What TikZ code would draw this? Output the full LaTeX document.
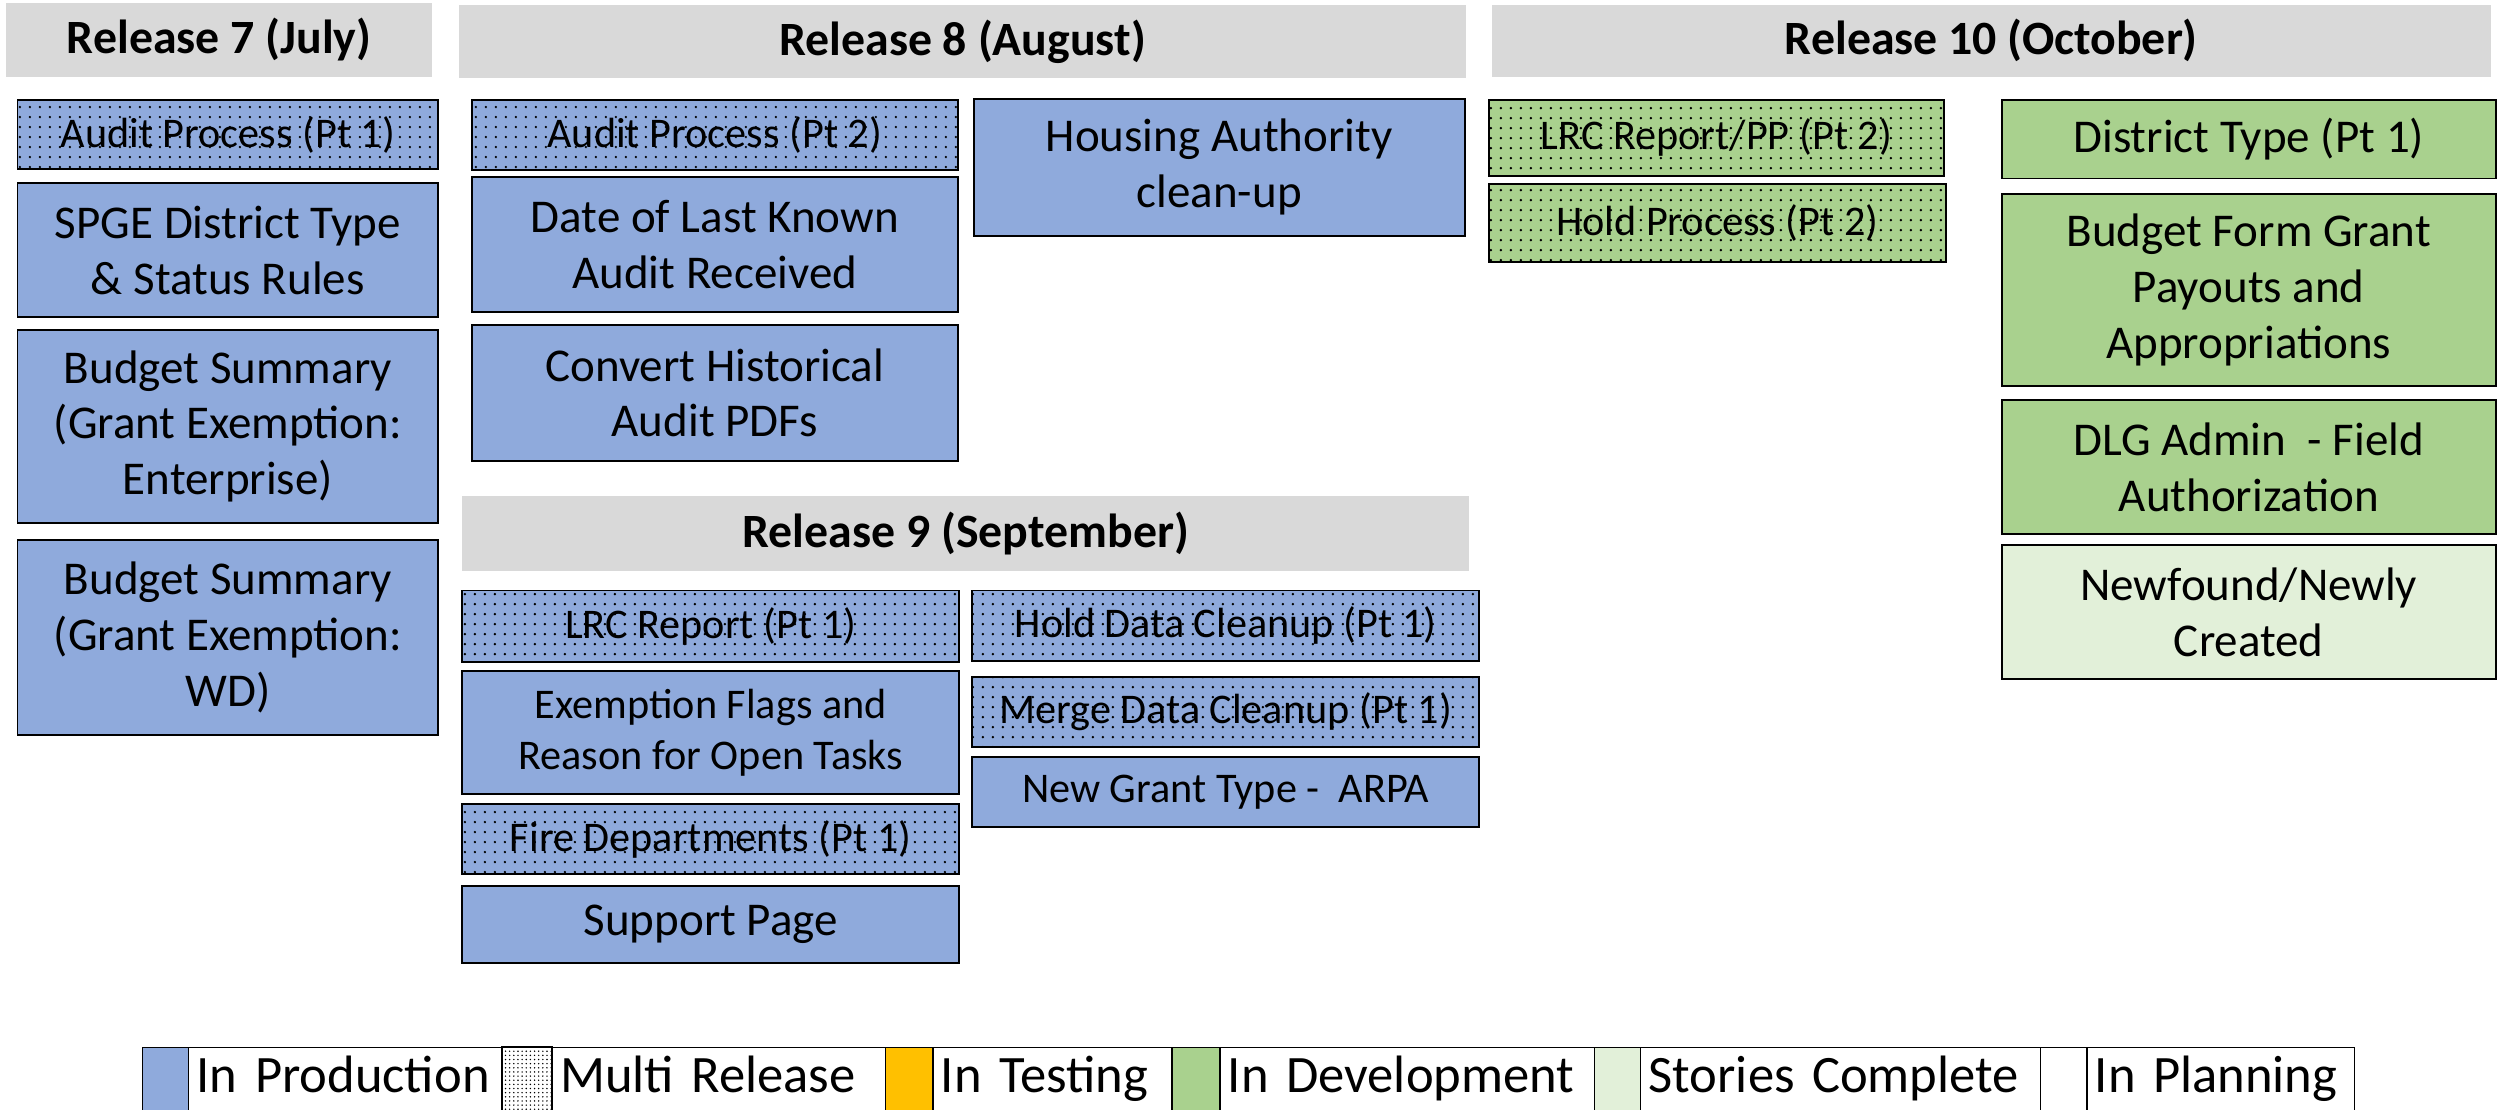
\documentclass[tikz,border=0pt]{standalone}
\usepackage{fontspec}
\setmainfont{Carlito}
\usetikzlibrary{patterns.meta}

\definecolor{prodblue}{HTML}{8FAADC}
\definecolor{devgreen}{HTML}{A9D18E}
\definecolor{donegreen}{HTML}{E2F0D9}
\definecolor{testorange}{HTML}{FFC000}
\definecolor{hdrgray}{HTML}{D9D9D9}

\tikzset{
  card/.style={draw=black, line width=1.2pt, inner sep=2pt, align=center,
    font=\fontsize{29.5}{35}\selectfont},
  small/.style={font=\fontsize{26.5}{32}\selectfont},
  dotty/.style={postaction={pattern={Dots[distance=6.5pt,radius=0.85pt]}}},
  prod/.style={card, fill=prodblue},
  multi/.style={card, small, fill=prodblue, dotty},
  dev/.style={card, fill=devgreen},
  devmulti/.style={card, small, fill=devgreen, dotty},
  done/.style={card, fill=donegreen},
  hdr/.style={fill=hdrgray, inner sep=0pt, font=\fontsize{30}{36}\selectfont\bfseries},
  keycell/.style={draw=black, line width=0.8pt, anchor=north west, minimum height=40, inner sep=0pt}
}

\begin{document}
\begin{tikzpicture}[x=1pt, y=-1pt]
  \useasboundingbox (0,0) rectangle (1568,696);

  % release headers
  \node[hdr, minimum width=267, minimum height=46] (r7hdr) at (137.5,25) {Release 7 (July)};
  \node[hdr, minimum width=632, minimum height=46] (r8hdr) at (604,26) {Release 8 (August)};
  \node[hdr, minimum width=632, minimum height=47] (r9hdr) at (606,334.5) {Release 9 (September)};
  \node[hdr, minimum width=627, minimum height=45] (r10hdr) at (1249.5,25.5) {Release 10 (October)};

  % release 7
  \node[multi, minimum width=264, minimum height=43] (r7audit) at (143,84.5) {Audit Process (Pt 1)};
  \node[prod, minimum width=264, minimum height=84] (r7spge) at (143,157) {SPGE District Type\\\& Status Rules};
  \node[prod, minimum width=264, minimum height=121] (r7budgetent) at (143,267.5) {Budget Summary\\(Grant Exemption:\\Enterprise)};
  \node[prod, minimum width=264, minimum height=122] (r7budgetwd) at (143,400) {Budget Summary\\(Grant Exemption:\\WD)};

  % release 8
  \node[multi, minimum width=305, minimum height=44] (r8audit) at (448.5,84.5) {Audit Process (Pt 2)};
  \node[prod, minimum width=305, minimum height=85] (r8date) at (448.5,153.5) {Date of Last Known\\Audit Received};
  \node[prod, minimum width=305, minimum height=85] (r8convert) at (448.5,246.5) {Convert Historical\\Audit PDFs};
  \node[prod, minimum width=308, minimum height=86] (r8housing) at (765,105) {Housing Authority\\clean-up};

  % release 9
  \node[multi, minimum width=312, minimum height=45] (r9lrc) at (446,393) {LRC Report (Pt 1)};
  \node[prod, small, minimum width=312, minimum height=77] (r9exempt) at (446,459.5) {Exemption Flags and\\Reason for Open Tasks};
  \node[multi, minimum width=312, minimum height=44] (r9fire) at (446,526.5) {Fire Departments (Pt 1)};
  \node[prod, minimum width=312, minimum height=48] (r9support) at (446,580) {Support Page};
  \node[multi, minimum width=318, minimum height=44] (r9hold) at (769,392.5) {Hold Data Cleanup (Pt 1)};
  \node[multi, minimum width=318, minimum height=44] (r9merge) at (769,446.5) {Merge Data Cleanup (Pt 1)};
  \node[prod, small, minimum width=318, minimum height=44] (r9arpa) at (769,497) {New Grant Type -\ \ ARPA};

  % release 10
  \node[devmulti, minimum width=286, minimum height=48] (r10lrc) at (1077,86.5) {LRC Report/PP (Pt 2)};
  \node[devmulti, minimum width=287, minimum height=49] (r10hold) at (1077.5,140) {Hold Process (Pt 2)};
  \node[dev, minimum width=310, minimum height=49] (r10district) at (1411,87.5) {District Type (Pt 1)};
  \node[dev, minimum width=310, minimum height=120] (r10budget) at (1411,182) {Budget Form Grant\\Payouts and\\Appropriations};
  \node[dev, minimum width=310, minimum height=84] (r10dlg) at (1411,293) {DLG Admin\ \ - Field\\Authorization};
  \node[done, minimum width=310, minimum height=84] (r10newfound) at (1411,384) {Newfound/Newly\\Created};

  % legend
  \foreach \a/\b/\c/\col/\txt in {89/118/315/prodblue/In Production,
      315/346/555/white/Multi Release, 555/585/735/testorange/In Testing,
      735/765/1000/devgreen/In Development, 1000/1029/1280/donegreen/Stories Complete,
      1280/1309/1477/white/In Planning} {
    \pgfmathsetmacro\sw{\b-\a}
    \pgfmathsetmacro\tw{\c-\b-10}
    \node[keycell, fill=\col, minimum width=\sw pt] (key\a) at (\a,657) {};
    \node[keycell, text width=\tw pt, inner xsep=5pt, align=left,
      text height=25pt, text depth=9pt,
      font=\fontsize{33}{38}\selectfont] (lab\a) at (\b,657) {\txt};
  }
  \fill[pattern={Dots[distance=2.6pt,radius=0.5pt]}] (key315.north west) rectangle (key315.south east);
  \draw[line width=0.8pt] (key315.north west) rectangle (key315.south east);
\end{tikzpicture}
\end{document}
